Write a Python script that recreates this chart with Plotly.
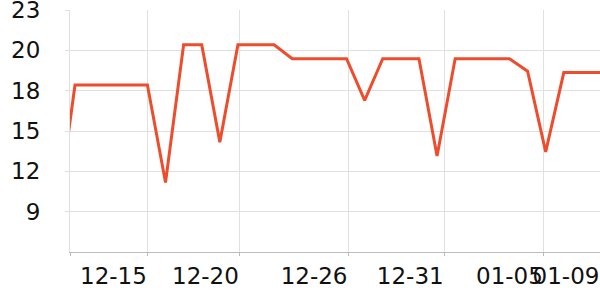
import plotly.graph_objects as go

# ---- data ----
dates = [
    "2023-12-10", "2023-12-11", "2023-12-12", "2023-12-13", "2023-12-14",
    "2023-12-15", "2023-12-16", "2023-12-17", "2023-12-18", "2023-12-19",
    "2023-12-20", "2023-12-21", "2023-12-22", "2023-12-23", "2023-12-24",
    "2023-12-25", "2023-12-26", "2023-12-27", "2023-12-28", "2023-12-29",
    "2023-12-30", "2023-12-31", "2024-01-01", "2024-01-02", "2024-01-03",
    "2024-01-04", "2024-01-05", "2024-01-06", "2024-01-07", "2024-01-08",
    "2024-01-09",
]
values = [
    8.4, 17.9, 17.9, 17.9, 17.9,
    17.9, 10.9, 20.8, 20.8, 13.8,
    20.8, 20.8, 20.8, 19.8, 19.8,
    19.8, 19.8, 16.8, 19.8, 19.8,
    19.8, 12.8, 19.8, 19.8, 19.8,
    19.8, 18.9, 13.1, 18.8, 18.8,
    18.8,
]
x_tick_pos = ["2023-12-10 17:22", "2023-12-15", "2023-12-20 02:00", "2023-12-26 02:00",
              "2023-12-31 09:30", "2024-01-05 21:00", "2024-01-09"]
x_tick_text = ["", "12-15", "12-20", "12-26", "12-31", "01-05", "01-09"]
y_tick_pos = [8.8, 11.7, 14.6, 17.5, 20.4, 23.29]
y_tick_text = ["9", "12", "15", "18", "20", "23"]

LINE = "#EE4D2D"
GRID = "#E0E0E0"
FONT = dict(family="DejaVu Sans", size=23, color="#111111")

fig = go.Figure(go.Scatter(
    x=dates, y=values, mode="lines",
    line=dict(color=LINE, width=3),
    hoverinfo="skip",
))

fig.update_layout(
    width=600, height=300,
    margin=dict(l=70, r=0, t=10, b=48),
    paper_bgcolor="white", plot_bgcolor="white",
    showlegend=False,
    font=FONT,
)
fig.update_xaxes(
    type="date",
    range=["2023-12-10 17:22", "2024-01-09"],
    tickmode="array", tickvals=x_tick_pos, ticktext=x_tick_text,
    tickangle=0,
    showgrid=True, gridcolor=GRID, gridwidth=1,
    showline=True, linecolor="#BBBBBB", linewidth=1,
    ticks="outside", ticklen=3, tickcolor="#BBBBBB",
    ticklabelshift=-34, ticklabelstandoff=0,
    ticklabeloverflow="allow", automargin=False,
    zeroline=False, tickfont=FONT,
)
fig.update_yaxes(
    range=[5.9, 23.3],
    tickmode="array", tickvals=y_tick_pos, ticktext=y_tick_text,
    showgrid=True, gridcolor=GRID, gridwidth=1,
    showline=True, linecolor=GRID, linewidth=1,
    ticks="outside", ticklen=4, tickcolor=GRID,
    ticklabelstandoff=20,
    ticklabeloverflow="allow", automargin=False,
    zeroline=False, tickfont=FONT,
)

fig.write_html("out.html")
